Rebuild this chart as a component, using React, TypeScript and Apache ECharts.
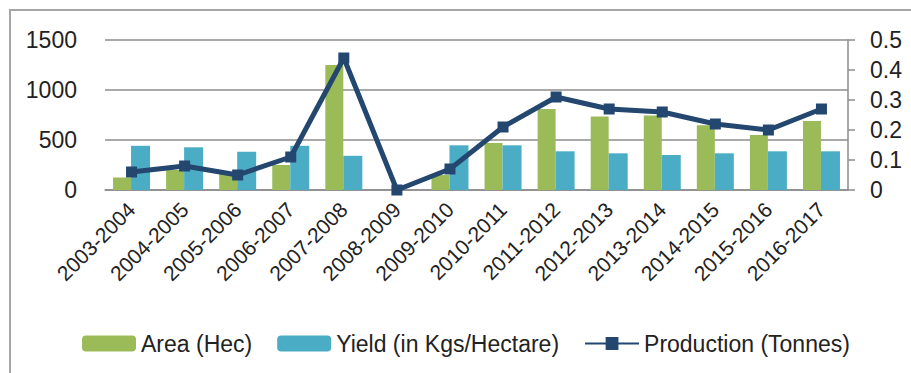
import React, { useEffect, useRef } from "react";
import * as echarts from "echarts";

const categories = [
  "2003-2004", "2004-2005", "2005-2006", "2006-2007", "2007-2008",
  "2008-2009", "2009-2010", "2010-2011", "2011-2012", "2012-2013",
  "2013-2014", "2014-2015", "2015-2016", "2016-2017",
];
const areaHec = [125, 200, 160, 250, 1250, 0, 150, 470, 810, 735, 745, 648, 550, 690];
const yieldKgs = [442, 427, 382, 442, 342, 0, 447, 447, 387, 367, 350, 367, 387, 387];
const productionTonnes = [0.06, 0.08, 0.05, 0.11, 0.44, 0, 0.07, 0.21, 0.31, 0.27, 0.26, 0.22, 0.2, 0.27];

const leftTicks = { min: 0, max: 1500, interval: 500 };
const rightTicks = { min: 0, max: 0.5, interval: 0.1 };

const FONT = "'Liberation Sans', Arial, sans-serif";
const TEXT = "#222";

export default function App() {
  const ref = useRef<HTMLDivElement>(null);
  useEffect(() => {
    if (!ref.current) return;
    const chart = echarts.init(ref.current, undefined, { renderer: "svg" });
    chart.setOption({
      animation: false,
      backgroundColor: "#ffffff",
      textStyle: { fontFamily: FONT },
      graphic: [
        {
          type: "rect",
          shape: { x: 10, y: 10, width: 910, height: 380 },
          style: { fill: "none", stroke: "#a6a6a6", lineWidth: 2 },
          silent: true,
        },
      ],
      grid: { left: 105, right: 63, top: 40, bottom: 183, containLabel: false },
      legend: {
        left: 77,
        top: 327,
        itemWidth: 54,
        itemHeight: 16,
        itemGap: 25,
        textStyle: { fontSize: 23, color: TEXT, fontFamily: FONT },
        data: ["Area (Hec)", "Yield (in Kgs/Hectare)", "Production (Tonnes)"],
      },
      xAxis: {
        type: "category",
        data: categories,
        axisLine: { lineStyle: { color: "#8c8c8c", width: 1.5 } },
        axisTick: { show: false },
        axisLabel: {
          rotate: 45,
          fontSize: 21,
          color: TEXT,
          margin: 16,
          interval: 0,
          fontFamily: FONT,
        },
      },
      yAxis: [
        {
          type: "value",
          ...leftTicks,
          axisLine: { show: false },
          axisTick: { show: false },
          axisLabel: {
            fontSize: 23,
            color: TEXT,
            margin: 28,
            fontFamily: FONT,
            formatter: (v: number) => String(v),
          },
          splitLine: { lineStyle: { color: "#8c8c8c", width: 1.5 } },
        },
        {
          type: "value",
          ...rightTicks,
          position: "right",
          axisLine: { show: true, lineStyle: { color: "#8c8c8c", width: 1.5 } },
          axisTick: { show: true, length: 7, lineStyle: { color: "#8c8c8c", width: 1.5 } },
          axisLabel: { fontSize: 23, color: TEXT, margin: 22, fontFamily: FONT },
          splitLine: { show: false },
        },
      ],
      series: [
        {
          name: "Area (Hec)",
          type: "bar",
          data: areaHec,
          barWidth: 18,
          barGap: "0%",
          itemStyle: { color: "#9BBB59" },
        },
        {
          name: "Yield (in Kgs/Hectare)",
          type: "bar",
          data: yieldKgs,
          barWidth: 19,
          barGap: "0%",
          itemStyle: { color: "#4BACC6" },
        },
        {
          name: "Production (Tonnes)",
          type: "line",
          yAxisIndex: 1,
          data: productionTonnes,
          symbol: "rect",
          symbolSize: 11,
          lineStyle: { color: "#23476F", width: 5 },
          itemStyle: { color: "#23476F" },
          z: 5,
        },
      ],
    });
    return () => chart.dispose();
  }, []);
  return (
    <div
      ref={ref}
      style={{ position: "fixed", left: 0, top: 0, width: 911, height: 373 }}
    />
  );
}
